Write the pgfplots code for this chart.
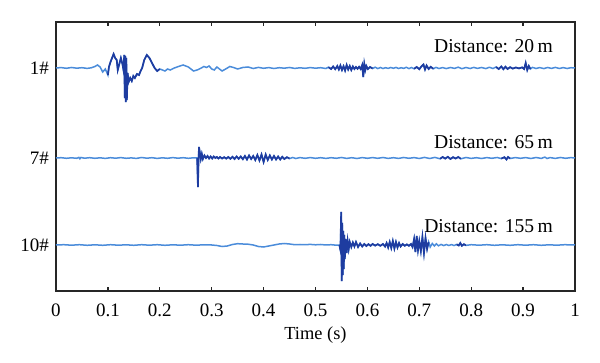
\documentclass[border=0pt]{standalone}
\usepackage{pgfplots}
\pgfplotsset{compat=1.18}
\usepackage{pgfplotstable}
\usepackage{fontspec}
\setmainfont{Liberation Serif}
\definecolor{lightb}{RGB}{75,140,218}
\definecolor{darkb}{RGB}{30,60,160}

\pgfplotstableread{
t y
0.000 0
0.010 0.4
0.020 -0.3
0.030 0.5
0.040 -0.2
0.050 0.3
0.060 -0.4
0.068 0.2
0.075 1.5
0.080 3
0.085 1
0.090 -4
0.095 -1
0.100 -7
0.102 1
0.105 6
0.108 10
0.111 14
0.114 10
0.117 8
0.119 -2
0.122 4
0.125 10
0.128 4
0.130 -2
0.1315 13
0.1325 -30
0.1335 12
0.1345 -34
0.1355 10
0.1365 -32
0.138 -5
0.140 -14
0.143 -10
0.146 -13
0.149 -8
0.152 -10
0.156 -6
0.160 -7
0.163 -3
0.166 0
0.170 8
0.175 13
0.180 10
0.185 5
0.190 0
0.195 -3
0.200 -1
0.205 -2
0.210 -3
0.215 -1
0.220 -2
0.228 0
0.236 1.5
0.245 3
0.255 1
0.265 -3
0.272 -2
0.280 0
0.285 1.5
0.290 0.5
0.295 2
0.300 -1
0.305 -2
0.310 1
0.315 -1
0.320 -3
0.327 -1
0.335 1.5
0.342 0.5
0.350 -1
0.360 0.5
0.370 1
0.380 -0.5
0.390 0.6
0.400 -0.3
0.410 0.4
0.420 -0.5
0.430 0.3
0.440 -0.2
0.450 0.5
0.460 -0.4
0.470 0.2
0.480 -0.3
0.490 0.4
0.500 -0.2
0.510 0.3
0.520 -0.5
0.525 0.8
0.530 -1
0.534 1.5
0.538 -1.2
0.542 2
0.545 -1.5
0.548 2.5
0.551 -2
0.554 1.8
0.557 -2.5
0.560 3
0.563 -1.5
0.566 2
0.569 -2
0.572 1.5
0.575 -1
0.578 1
0.581 -0.8
0.584 1.2
0.587 -1
0.590 3
0.592 -9
0.594 4
0.596 -2
0.598 2
0.601 -1
0.605 1
0.610 -0.5
0.615 0.8
0.620 -0.6
0.625 0.5
0.630 -0.5
0.635 0.3
0.640 -0.4
0.645 0.5
0.650 -0.3
0.655 0.6
0.660 -0.5
0.665 0.3
0.670 -0.4
0.675 0.7
0.680 -0.6
0.685 0.5
0.690 -0.8
0.695 1
0.700 -1.2
0.704 1.5
0.708 3.5
0.711 -1.5
0.714 2.5
0.718 -1
0.722 1.2
0.727 -0.8
0.732 0.6
0.738 -0.5
0.745 0.4
0.752 -0.6
0.760 0.5
0.768 -0.4
0.775 0.8
0.782 -0.7
0.790 0.5
0.798 -0.5
0.805 0.6
0.812 -0.4
0.820 0.5
0.828 -0.6
0.835 0.7
0.842 -0.5
0.848 1
0.853 -1
0.858 1.5
0.862 -1.2
0.866 1.3
0.870 -1
0.875 0.8
0.880 -0.6
0.886 0.5
0.892 -0.4
0.898 0.6
0.902 -1
0.905 5
0.908 -2
0.911 2
0.914 -1
0.918 0.6
0.925 -0.5
0.932 0.4
0.940 -0.6
0.947 0.5
0.955 -0.4
0.962 0.6
0.970 -0.5
0.977 0.4
0.985 -0.5
0.992 0.3
1.000 0
}\traceA

\pgfplotstableread{
t y
0.000 0
0.010 0.3
0.020 -0.3
0.030 0.2
0.040 -0.3
0.044 0.6
0.046 -0.8
0.048 0.5
0.055 -0.2
0.065 0.3
0.075 -0.3
0.085 0.2
0.095 -0.4
0.105 0.3
0.115 -0.2
0.125 0.4
0.135 -0.3
0.145 0.1
0.155 -0.4
0.165 0.5
0.175 -0.2
0.185 0.3
0.195 -0.4
0.205 0.2
0.215 -0.3
0.225 0.4
0.235 -0.2
0.245 0.3
0.255 -0.3
0.265 0.2
0.272 0
0.2735 -29
0.2745 -5
0.2755 11
0.277 6
0.279 -1
0.281 4
0.283 -1
0.286 2.5
0.289 0
0.292 2
0.295 -0.5
0.298 1.5
0.301 -0.5
0.304 1.5
0.307 0
0.310 1
0.313 -0.5
0.316 1
0.320 -0.5
0.324 0.8
0.328 -0.6
0.332 1
0.336 -0.8
0.340 1.2
0.344 -1
0.348 1.5
0.352 -0.8
0.356 1.5
0.360 -1.2
0.364 2
0.368 -1.5
0.372 2.5
0.376 -1
0.380 2
0.384 -2
0.388 3
0.392 -2.5
0.396 3.5
0.400 -4
0.404 3.5
0.408 -2
0.412 2.5
0.416 -1.5
0.420 2
0.424 -1.5
0.428 1.5
0.432 -1.5
0.436 1.2
0.440 -1
0.445 0.8
0.450 -0.6
0.456 0.5
0.462 -0.5
0.470 0.4
0.480 -0.3
0.490 0.4
0.500 -0.3
0.510 0.3
0.520 -0.4
0.530 0.3
0.540 -0.3
0.550 0.5
0.560 -0.4
0.570 0.3
0.580 -0.5
0.590 0.4
0.600 -0.3
0.610 0.4
0.620 -0.3
0.630 0.5
0.640 -0.4
0.650 0.3
0.660 -0.4
0.670 0.5
0.680 -0.3
0.690 0.4
0.700 -0.5
0.710 0.6
0.720 -0.5
0.730 0.6
0.740 -0.8
0.745 1
0.750 -0.6
0.755 1.2
0.760 -1
0.765 0.8
0.770 -0.5
0.775 1
0.780 -0.8
0.790 0.5
0.800 -0.4
0.810 0.3
0.820 -0.5
0.830 0.4
0.840 -0.3
0.850 0.5
0.858 -0.6
0.864 0.8
0.868 -1.5
0.871 1
0.875 -0.5
0.885 0.4
0.895 -0.3
0.905 0.4
0.915 -0.5
0.925 0.5
0.935 -0.4
0.942 0.9
0.946 -0.5
0.952 0.4
0.962 -0.4
0.972 0.5
0.982 -0.3
0.992 0.4
1.000 0
}\traceB

\pgfplotstableread{
t y
0.000 0
0.015 0.3
0.030 -0.2
0.045 0.3
0.060 -0.3
0.075 0.2
0.090 -0.3
0.105 0.3
0.120 -0.2
0.135 0.2
0.150 -0.3
0.165 0.3
0.180 -0.2
0.195 0.3
0.210 -0.3
0.225 0.2
0.240 -0.2
0.255 0.3
0.270 -0.2
0.285 0.2
0.300 0
0.310 -0.5
0.320 -1.5
0.330 -1
0.340 0.5
0.350 1.3
0.360 1
0.370 0.8
0.380 0
0.390 -1.5
0.400 -2
0.410 -1
0.420 0
0.430 1
0.440 1.5
0.450 1
0.460 0.3
0.470 0.5
0.480 0.3
0.490 0.6
0.500 0.2
0.510 0.5
0.520 0
0.530 0.3
0.540 -0.2
0.546 0
0.548 -5
0.5495 33
0.5505 -36
0.5515 22
0.5525 -30
0.5535 14
0.5545 -24
0.5555 10
0.5565 -14
0.558 6
0.560 -8
0.562 4
0.564 -4
0.566 3
0.569 -2
0.572 2.5
0.575 -1.5
0.578 3
0.582 -2
0.586 1.5
0.590 -1.5
0.594 1
0.598 -1
0.602 0.8
0.606 -0.8
0.610 1
0.615 -0.6
0.620 0.8
0.625 -0.8
0.630 1
0.634 -1.5
0.637 2
0.640 -2.5
0.643 3
0.646 -3
0.649 4
0.652 -3.5
0.655 3
0.658 -2.5
0.661 2
0.664 -1.5
0.668 1
0.672 -0.8
0.676 0.6
0.680 -0.8
0.684 1
0.687 -2
0.690 6
0.6925 -7
0.695 9
0.6975 -5
0.700 4
0.703 -6
0.706 8
0.709 -8
0.712 7
0.715 -4
0.718 3
0.721 -2
0.725 1.5
0.729 -1
0.733 1.2
0.737 -0.8
0.742 0.6
0.747 -0.6
0.752 0.5
0.757 -0.5
0.762 0.4
0.767 -0.5
0.772 0.6
0.776 -0.5
0.779 2
0.782 -0.8
0.786 0.8
0.790 -0.4
0.800 0.3
0.815 -0.2
0.830 0.3
0.845 -0.3
0.860 0.2
0.875 -0.3
0.890 0.3
0.905 -0.2
0.920 0.3
0.935 -0.3
0.950 0.2
0.965 -0.2
0.980 0.3
1.000 0
}\traceC

\begin{document}
\begin{tikzpicture}
\useasboundingbox (-28pt,-36pt) rectangle (272pt,145.5pt);
\begin{axis}[
  scale only axis,
  width=259.5pt, height=134.5pt,
  at={(0,0)}, anchor=south west,
  xmin=0, xmax=1, ymin=0, ymax=269,
  xtick={0,0.1,...,1},
  xticklabels={0,0.1,0.2,0.3,0.4,0.5,0.6,0.7,0.8,0.9,1},
  ytick={46,133,223},
  yticklabels={10\#,7\#,1\#},
  tick align=inside,
  xtick pos=both,
  ytick style={draw=none},
  major tick length=2.2pt,
  axis line style={line width=0.9pt, black!85},
  every tick/.style={black!85, line width=0.7pt},
  tick label style={font=\fontsize{9.5}{10}\selectfont},
  xticklabel style={yshift=-3pt},
  /pgf/number format/assume math mode=true,
  xlabel={Time (s)},
  xlabel style={font=\fontsize{9.2}{10}\selectfont, yshift=2pt},
  clip=true,
]
\addplot[lightb, line width=0.75pt] table[x=t, y expr=\thisrow{y}+223] {\traceA};
\addplot[darkb, line width=0.85pt, restrict x to domain=0.1:0.2, unbounded coords=jump] table[x=t, y expr=\thisrow{y}+223] {\traceA};
\addplot[darkb, line width=0.85pt, restrict x to domain=0.525:0.61, unbounded coords=jump] table[x=t, y expr=\thisrow{y}+223] {\traceA};
\addplot[darkb, line width=0.85pt, restrict x to domain=0.69:0.73, unbounded coords=jump] table[x=t, y expr=\thisrow{y}+223] {\traceA};
\addplot[darkb, line width=0.85pt, restrict x to domain=0.845:0.915, unbounded coords=jump] table[x=t, y expr=\thisrow{y}+223] {\traceA};

\addplot[lightb, line width=0.75pt] table[x=t, y expr=\thisrow{y}+133] {\traceB};
\addplot[darkb, line width=0.85pt, restrict x to domain=0.27:0.45, unbounded coords=jump] table[x=t, y expr=\thisrow{y}+133] {\traceB};
\addplot[darkb, line width=0.85pt, restrict x to domain=0.74:0.78, unbounded coords=jump] table[x=t, y expr=\thisrow{y}+133] {\traceB};
\addplot[darkb, line width=0.85pt, restrict x to domain=0.855:0.875, unbounded coords=jump] table[x=t, y expr=\thisrow{y}+133] {\traceB};

\addplot[lightb, line width=0.75pt] table[x=t, y expr=\thisrow{y}+46] {\traceC};
\addplot[darkb, line width=0.85pt, restrict x to domain=0.546:0.72, unbounded coords=jump] table[x=t, y expr=\thisrow{y}+46] {\traceC};
\addplot[darkb, line width=0.85pt, restrict x to domain=0.772:0.79, unbounded coords=jump] table[x=t, y expr=\thisrow{y}+46] {\traceC};

\node[anchor=east, font=\fontsize{9.8}{11}\selectfont, inner sep=0pt] at (axis cs:0.958,245) {Distance: 20\,m};
\node[anchor=east, font=\fontsize{9.8}{11}\selectfont, inner sep=0pt] at (axis cs:0.958,149) {Distance: 65\,m};
\node[anchor=east, font=\fontsize{9.8}{11}\selectfont, inner sep=0pt] at (axis cs:0.958,65) {Distance: 155\,m};
\end{axis}
\end{tikzpicture}
\end{document}
